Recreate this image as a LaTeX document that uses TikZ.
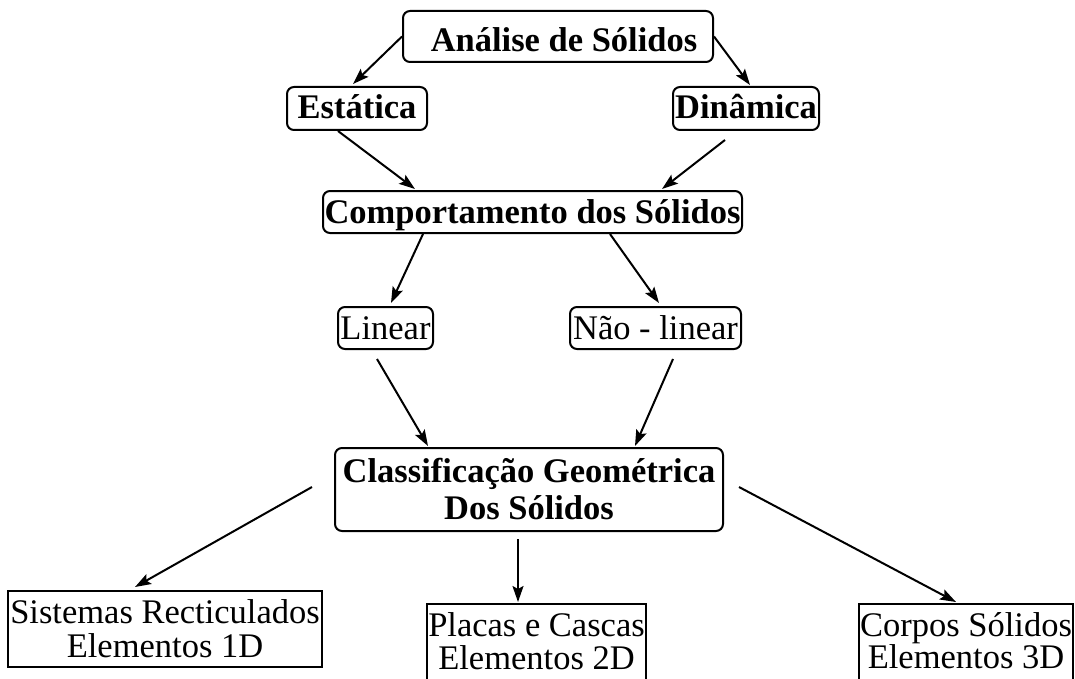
\documentclass[tikz,border=0pt]{standalone}
\usepackage{fontspec}
\setmainfont{Liberation Serif}
\usetikzlibrary{arrows.meta}
\begin{document}
\begin{tikzpicture}[x=1pt,y=-1pt,
  rbox/.style={draw, line width=2pt, rounded corners=7pt, inner sep=0pt, font=\fontsize{34.5}{37}\selectfont\bfseries},
  pbox/.style={draw, line width=2pt, rounded corners=7pt, inner sep=0pt, font=\fontsize{34.5}{37}\selectfont},
  sbox/.style={draw, line width=2pt, inner xsep=0pt, align=center},
  arr/.style={line width=2pt, -{Stealth[length=16pt,width=11pt,inset=3pt]}}]
\useasboundingbox (0,0) rectangle (1075,679);
\fill[white] (0,0) rectangle (1075,679);

\node[rbox, minimum width=310pt, minimum height=51pt, text height=31pt, text depth=0pt] (ana) at (558,36.5) {\hspace*{12pt}Análise de Sólidos};
\node[rbox, minimum width=140pt, minimum height=43pt, text height=24pt, text depth=3pt] (est) at (357,108.5) {Estática};
\node[rbox, minimum width=146pt, minimum height=43pt, text height=24pt, text depth=3pt] (din) at (746,108.5) {Dinâmica};
\node[rbox, minimum width=419pt, minimum height=42pt, text height=25pt, text depth=3pt] (comp) at (532.5,212) {Comportamento dos Sólidos};
\node[pbox, minimum width=95pt, minimum height=42pt, text height=25pt, text depth=3pt] (lin) at (385.5,328) {Linear};
\node[pbox, minimum width=171pt, minimum height=42pt, text height=25pt, text depth=3pt] (nao) at (655.5,328) {Não - linear};
\node[rbox, align=center, minimum width=388pt, minimum height=83pt] (cls) at (529,489.5) {Classificação Geométrica\\Dos Sólidos};

\node[sbox, font=\fontsize{34.5}{34}\selectfont, minimum width=314pt, minimum height=76pt, inner ysep=0pt] (sis) at (165,629) {Sistemas Recticulados\\Elementos 1D};
\node[sbox, font=\fontsize{34.5}{33}\selectfont, minimum width=219pt, inner ysep=9pt, anchor=north] (pla) at (536.5,603) {Placas e Cascas\\Elementos 2D\rule[-12pt]{0pt}{12pt}};
\node[sbox, font=\fontsize{34.5}{32}\selectfont, minimum width=214pt, inner ysep=9pt, anchor=north] (cor) at (966,603) {Corpos Sólidos\\Elementos 3D\rule[-12pt]{0pt}{12pt}};

\draw[arr] (ana.west) -- ([xshift=-4pt,yshift=2pt]est.north);
\draw[arr] (ana.east) -- ([xshift=4pt,yshift=1pt]din.north);
\draw[arr] ([xshift=-19pt]est.south) -- ([xshift=-117.5pt,yshift=1pt]comp.north);
\draw[arr] ([xshift=-21pt,yshift=-9pt]din.south) -- ([xshift=129.5pt,yshift=1pt]comp.north);
\draw[arr] ([xshift=-109.5pt]comp.south) -- ([xshift=5.5pt,yshift=3pt]lin.north);
\draw[arr] ([xshift=77.5pt]comp.south) -- ([xshift=3.5pt,yshift=3pt]nao.north);
\draw[arr] ([xshift=-8.5pt,yshift=-9pt]lin.south) -- ([xshift=-101pt,yshift=1pt]cls.north);
\draw[arr] ([xshift=17.5pt,yshift=-9pt]nao.south) -- ([xshift=106pt,yshift=1pt]cls.north);
\draw[arr] ([xshift=-22pt,yshift=2.5pt]cls.west) -- ([xshift=-30pt,yshift=3pt]sis.north);
\draw[arr] ([xshift=-11pt,yshift=-7pt]cls.south) -- ([xshift=-18.5pt,yshift=1pt]pla.north);
\draw[arr] ([xshift=15pt,yshift=2.5pt]cls.east) -- ([xshift=-10pt,yshift=1pt]cor.north);
\end{tikzpicture}
\end{document}
